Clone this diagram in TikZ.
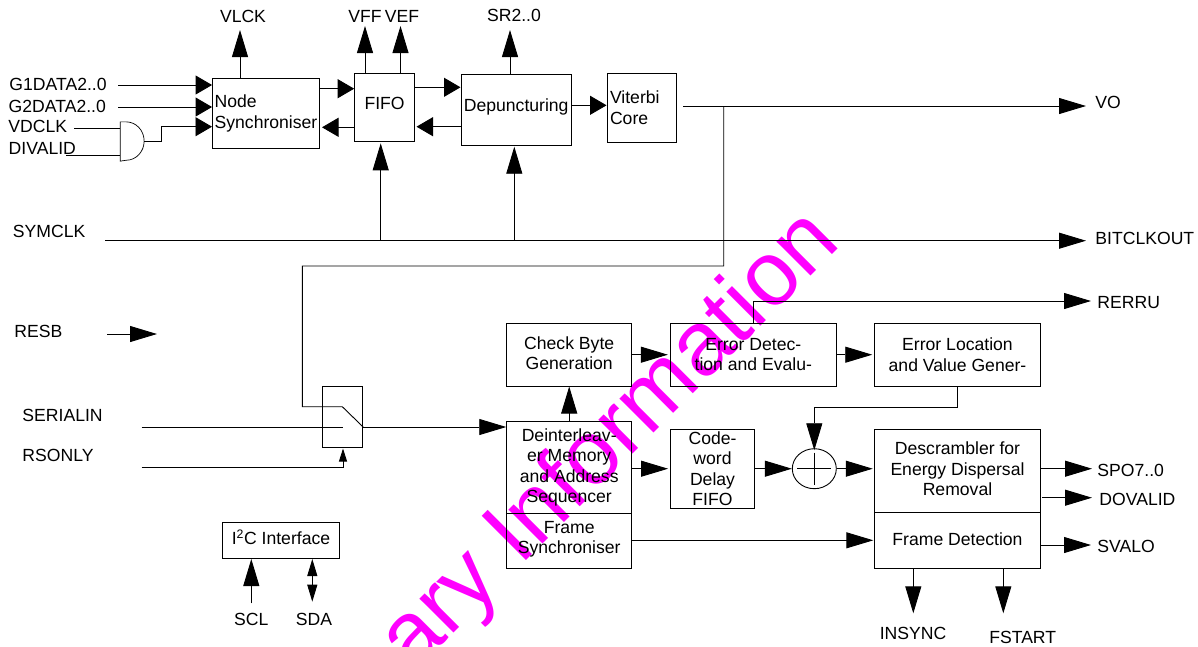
\documentclass[tikz,border=0pt]{standalone}
\usepackage{fontspec}
\setmainfont{Liberation Sans}
\usetikzlibrary{arrows.meta,shapes.geometric}
\definecolor{markpink}{RGB}{255,0,255}
\newcommand{\lift}[1]{\rule[-#1pt]{0pt}{#1pt}}
\tikzset{
  blk/.style={draw,align=center,inner sep=0pt},
  sig/.style={inner sep=0pt,anchor=base west},
  sigc/.style={inner sep=0pt,anchor=base},
  tipshort/.style={-{Triangle[length=16.5pt,width=19pt]}},
  tiplong/.style={-{Triangle[length=27pt,width=16pt]}}
}
\begin{document}
\begin{tikzpicture}[x=1pt,y=-1pt,line width=0.9pt,font=\fontsize{17.6}{20.5}\selectfont]
  \useasboundingbox (0,0) rectangle (1198,646);
  % watermark goes under everything
  \begin{scope}
    \clip (0,0) rectangle (1198,646);
    \node[inner sep=0pt,anchor=base east,rotate=45,text=markpink,font=\fontsize{91}{91}\selectfont] (mark) at (843,244) {ary Information};
  \end{scope}

  % upper row
  \node[blk,align=left,minimum width=107,minimum height=70] (nsync) at (266,113.5) {Node\\Synchroniser};
  \node[blk,minimum width=60,minimum height=68.5] (fifo) at (384.6,107.2) {FIFO\lift{8}};
  \node[blk,minimum width=110.5,minimum height=71] (depunct) at (516.2,110) {Depuncturing\lift{10}};
  \node[blk,align=left,text width=63,inner xsep=3pt,minimum height=69] (viterbi) at (641.5,107.5) {Viterbi\\Core};

  % lower blocks
  \node[blk,minimum width=125,minimum height=62.7] (check) at (569.2,354.7) {Check Byte\\Generation\lift{3}};
  \node[blk,minimum width=166,minimum height=62.7] (errdet) at (753.3,354.7) {Error Detec-\\tion and Evalu-};
  \node[blk,minimum width=165.6,minimum height=62.7] (errloc) at (957.5,354.7) {Error Location\\and Value Gener-};
  \node[blk,minimum width=125,minimum height=91.3] (deint) at (569.2,467.3) {Deinterleav-\\er Memory\\and Address\\Sequencer};
  \node[blk,minimum width=125,minimum height=55.3] (fsync) at (569.2,540.7) {Frame\\Synchroniser\lift{7}};
  \node[blk,minimum width=84,minimum height=79.3] (delay) at (712.5,468.7) {Code-\\word\\Delay\\FIFO};
  \node[blk,minimum width=165.6,minimum height=83.7] (descr) at (957.5,470.9) {Descrambler for\\Energy Dispersal\\Removal\lift{4}};
  \node[blk,minimum width=165.6,minimum height=55.6] (fdet) at (957.5,540.5) {Frame Detection\lift{2}};
  \node[blk,minimum width=117.4,minimum height=35.7] (iic) at (281,540.2) {I\textsuperscript{2}C Interface\lift{6}};
  \node[blk,minimum width=40.4,minimum height=60.3] (switch) at (342.5,416.9) {};
  \node[draw,ellipse,inner sep=0pt,minimum width=44,minimum height=40] (xor) at (814.3,468.7) {};
  \draw[line width=.5pt] (xor.center) ++(-17,0) -- ++(34,0) (xor.center) ++(0,-16) -- ++(0,32);

  % signal names
  \foreach \nm/\txt/\x/\y in {g1/G1DATA2..0/9/90, g2/G2DATA2..0/8.3/112, vdclk/VDCLK/8/132, divalid/DIVALID/8.3/154,
      symclk/SYMCLK/12.5/237, resb/RESB/14/337, serial/SERIALIN/22/421, rsonly/RSONLY/22/461,
      vo/VO/1095/108, bitclk/BITCLKOUT/1095/244, rerru/RERRU/1097/308, spo/SPO7..0/1097/476,
      dovalid/DOVALID/1099/505, svalo/SVALO/1097/552}
    \node[sig] (\nm) at (\x,\y) {\txt};
  \foreach \nm/\txt/\x/\y in {vlck/VLCK/243/22, vff/VFF/365/22, vef/VEF/402/22, srout/SR2..0/514/21,
      insync/INSYNC/913/639, fstart/FSTART/1022.7/643, scl/SCL/251.3/625, sda/SDA/314/625}
    \node[sigc] (\nm) at (\x,\y) {\txt};

  % free ends
  \coordinate (g1a) at (118,85);
  \coordinate (g2a) at (118,107);
  \coordinate (vda) at (74,128.5);
  \coordinate (dva) at (66,155);
  \coordinate (syma) at (105,240.7);
  \coordinate (symb) at (1086,240.7);
  \coordinate (voa) at (683.3,106);
  \coordinate (vob) at (1086,106);
  \coordinate (sera) at (141.7,427);
  \coordinate (rsa) at (141.7,467);
  \coordinate (resa) at (107,334);
  \coordinate (resz) at (157,334);

  % top half
  \foreach \from/\to in {g1a/nsync, g2a/nsync}
    \draw[tipshort] (\from) -- (\from -| \to.west);
  \node[minimum width=23,minimum height=38.4,inner sep=0pt] (gate) at (132.2,141.5) {};
  \draw[line width=.7pt] (gate.north east) ++(-18,0) arc[start angle=90,end angle=-90,x radius=18pt,y radius=19.2pt] -- (gate.south west) -- (gate.north west) -- cycle;
  \draw (vda) -- (vda -| gate.west);
  \draw (dva) -- (dva -| gate.west);
  \draw[tipshort] (gate.east) -- ++(17,0) |- (212,126.7);
  \draw[tipshort] (319.5,88.7) -- (fifo.west |- 0,88.7);
  \draw[tipshort] (354.6,127.3) -- (322,127.3);
  \draw[tipshort] (414.7,87.3) -- (depunct.west |- 0,87.3);
  \draw[tipshort] (461,126.7) -- (416.5,126.7);
  \draw[tipshort] (depunct.east |- 0,105.3) -- (viterbi.west |- 0,105.3);
  \draw[tiplong] (240,78.5) -- (240,30);
  \draw[tiplong] (365,73) -- (365,26);
  \draw[tiplong] (400.5,73) -- (400.5,26);
  \draw[tiplong] (510,74.5) -- (510,30);
  \draw[tiplong] (syma) -- (symb);
  \draw[tiplong] (380.7,240.7) -- (380.7,143.3);
  \draw[tiplong] (514.3,240.7) -- (514.3,146.7);
  \draw[tiplong] (voa) -- (vob);
  \draw (723.7,106) |- (302.3,266) |- (342.3,406.7) -- (switch.east |- 0,427);

  % switch and its inputs
  \draw (sera) -- (342.7,427);
  \draw[-{Triangle[length=13pt,width=8pt]}] (rsa) -| (343,448.5);
  \draw[tiplong] (switch.east |- 0,427) -- (deint.west |- 0,427);
  \draw[tiplong] (resa) -- (resz);

  % bottom half
  \draw[tiplong] (deint.north) -- (check.south);
  \draw[tiplong] (check.east) -- ([xshift=-2pt]errdet.west);
  \draw[tiplong] (errdet.east) -- ([xshift=-2pt]errloc.west);
  \draw[tiplong] (753.3,323.3) |- (1091,301);
  \draw[tiplong] (errloc.south) |- (814.3,407) -- ([yshift=-2pt]xor.north);
  \draw[tiplong] (deint.east |- delay.west) -- ([xshift=-2pt]delay.west);
  \draw[tiplong] (delay.east) -- (xor.west);
  \draw[tiplong] (xor.east) -- ([xshift=-1.5pt]descr.west |- xor.east);
  \draw[tiplong] (fsync.east |- 0,540.3) -- (873.3,540.3);
  \draw[tiplong] (descr.east |- 0,468.7) -- (1092,468.7);
  \draw[tiplong] (1042.3,497.7) -- (1092,497.7);
  \draw[tiplong] (fdet.east |- 0,545) -- (1091,545);
  \draw[tiplong] (913.3,568.3) -- (913.3,613.3);
  \draw[tiplong] (1003.3,568.3) -- (1003.3,613.3);
  \draw[tiplong] (251.3,603.3) -- (251.3,559);
  \draw[{Triangle[length=17pt,width=10pt]}-{Triangle[length=17pt,width=10pt]}] (312.3,559) -- (312.3,601.7);
\end{tikzpicture}
\end{document}
